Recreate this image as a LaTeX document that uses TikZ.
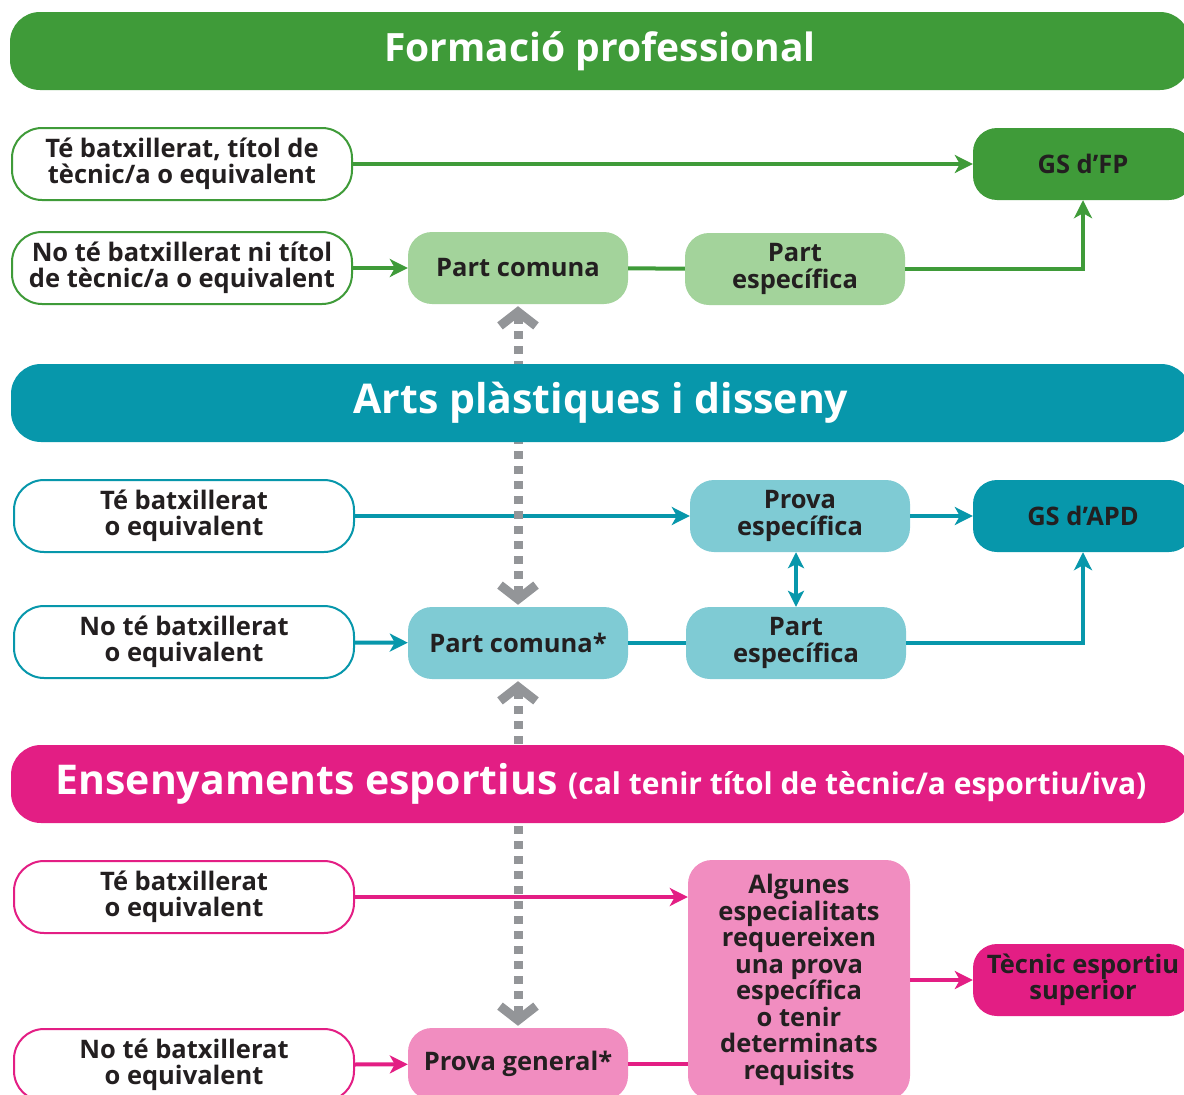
\documentclass[tikz,border=0pt]{standalone}
\usepackage{fontspec}
\setmainfont{Open Sans}
\usepackage{tikz}
\usetikzlibrary{arrows.meta}
\usetikzlibrary{positioning}
\usepackage{xcolor}
\definecolor{fpdark}{HTML}{3F9B39}
\definecolor{fplight}{HTML}{A3D39B}
\definecolor{apdark}{HTML}{0797AB}
\definecolor{aplight}{HTML}{7FCBD4}
\definecolor{esdark}{HTML}{E31E84}
\definecolor{eslight}{HTML}{F18DC0}
\definecolor{dotgray}{HTML}{939598}
\definecolor{txt}{HTML}{231F20}

\begin{document}
\begin{tikzpicture}[x=1pt,y=-1pt]
      \tikzstyle{every node}=[font=\bfseries\fontsize{25.5}{26.5}\selectfont,text=txt,align=center,inner sep=0pt]
      \tikzstyle{hdr}=[rounded corners=30pt,minimum width=1180pt,minimum height=78pt,text=white,font=\bfseries\fontsize{41}{44}\selectfont]
      \tikzstyle{cond}=[draw,line width=2pt,fill=white,rounded corners=30pt,minimum width=340pt,minimum height=72pt]
      \tikzstyle{stepbox}=[rounded corners=24pt,minimum width=220pt,minimum height=72pt]
      \tikzstyle{arr}=[line width=4pt,-{Stealth[length=18pt,width=18pt,inset=5pt]}]
      \tikzstyle{lnk}=[line width=4pt]
      \tikzstyle{dots}=[draw=dotgray,line width=9pt,dash pattern=on 8pt off 7pt,
          {Straight Barb[length=14pt,width=36pt,line width=9pt]}-{Straight Barb[length=14pt,width=36pt,line width=9pt]}]
      \path[use as bounding box,clip] (0,0) rectangle (1184,1095);

      % formacio professional
      \node[cond,draw=fpdark] (fp1) at (182,164) {Té batxillerat, títol de\\tècnic/a o equivalent};
      \node[cond,draw=fpdark] (fp2) at (182,268) {No té batxillerat ni títol\\de tècnic/a o equivalent};
      \node[stepbox,fill=fplight] (fpc) at (518,268) {Part comuna};
      \node[stepbox,fill=fplight] (fpe) at (795,269) {Part\\específica};
      \node[stepbox,fill=fpdark] (fpgs) at (1083,164) {GS d’FP};
      \draw[arr,fpdark] (fp1) -- (fpgs);
      \draw[arr,fpdark] (fp2) -- (fpc);
      \draw[lnk,fpdark] (fpc) -- (fpe);
      \draw[arr,fpdark] (fpe.east) -| (fpgs.south);

      % arts plastiques
      \node[cond,draw=apdark] (ap1) at (184,516) {Té batxillerat\\o equivalent};
      \node[cond,draw=apdark] (ap2) at (184,642) {No té batxillerat\\o equivalent};
      \node[stepbox,fill=aplight] (app) at (800,516) {Prova\\específica};
      \node[stepbox,fill=aplight] (apc) at (518,643) {Part comuna*};
      \node[stepbox,fill=aplight] (ape) at (796,643) {Part\\específica};
      \node[stepbox,fill=apdark] (apgs) at (1083,516) {GS d’APD};
      \draw[arr,apdark] (ap1) -- (app);
      \draw[arr,apdark] (app) -- (apgs);
      \draw[line width=4pt,apdark,{Stealth[length=16pt,width=16pt,inset=4pt]}-{Stealth[length=16pt,width=16pt,inset=4pt]}] (app.south -| ape.north) -- (ape.north);
      \draw[arr,apdark] (ap2) -- (apc);
      \draw[lnk,apdark] (apc) -- (ape);
      \draw[arr,apdark] (ape.east) -| (apgs.south);

      % ensenyaments esportius
      \node[cond,draw=esdark] (es1) at (184,897) {Té batxillerat\\o equivalent};
      \node[cond,draw=esdark] (es2) at (184,1065) {No té batxillerat\\o equivalent};
      \node[stepbox,fill=eslight] (esg) at (518,1064) {Prova general*};
      \node[stepbox,fill=eslight,minimum width=222pt,minimum height=240pt] (esa) at (799,980)
           {Algunes\\especialitats\\requereixen\\una prova\\específica\\o tenir\\determinats\\requisits};
      \node[stepbox,fill=esdark] (est) at (1083,980) {Tècnic esportiu\\superior};
      \draw[arr,esdark] (es1) -- (es1 -| esa.west);
      \draw[arr,esdark] (es2) -- (esg);
      \draw[lnk,esdark] (esg) -- (esg -| esa.west);
      \draw[arr,esdark] (esa) -- (est);

      % passarel.les
      \draw[dots] ([yshift=-2pt]fpc.south) -- ([yshift=2pt]apc.north);
      \draw[dots] ([yshift=-2pt]apc.south) -- ([yshift=2pt]esg.north);

      % capcaleres
      \node[hdr,fill=fpdark,font=\bfseries\fontsize{39}{44}\selectfont] (hfp) at (600,51) {Formació professional};
      \node[hdr,fill=apdark] (hap) at (601,403) {Arts plàstiques i disseny};
      \node[hdr,fill=esdark] (hes) at (601,784) {Ensenyaments esportius {\fontsize{30}{32}\selectfont(cal tenir títol de tècnic/a esportiu/iva)}};
\end{tikzpicture}
\end{document}
